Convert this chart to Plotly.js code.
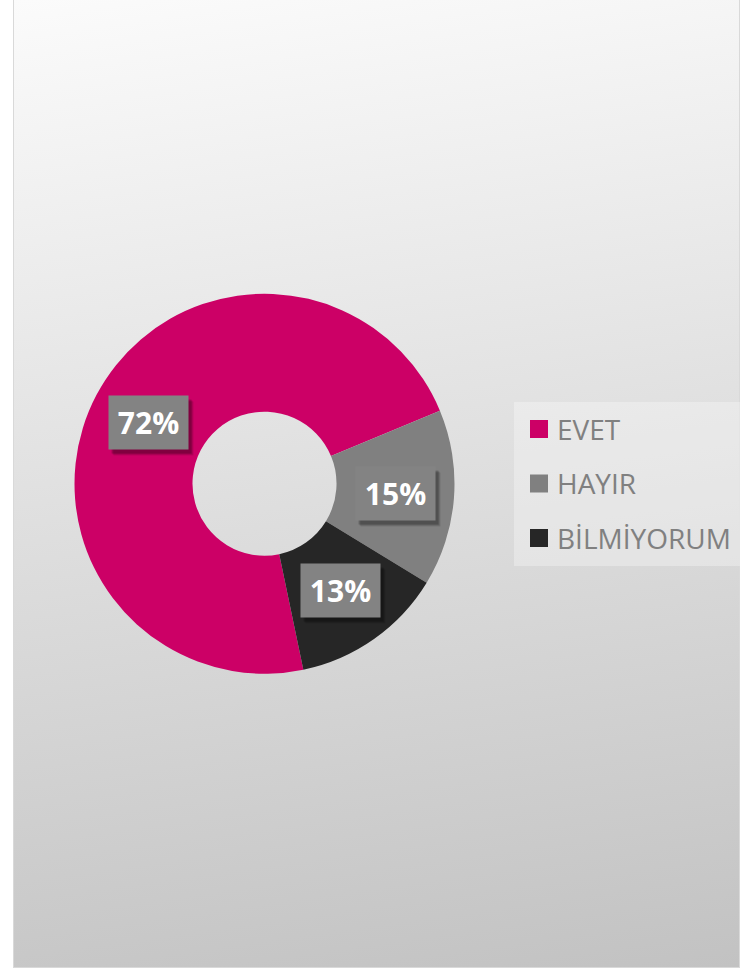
<!DOCTYPE html>
<html><head><meta charset="utf-8">
<script src="https://cdn.plot.ly/plotly-3.0.1.min.js"></script>
<style>
html,body{margin:0;padding:0;background:#fff;overflow:hidden;}
#frame{position:absolute;left:13px;top:-1px;width:725px;height:967px;border:1px solid #d9d9d9;background:linear-gradient(172deg,#fbfbfb 0%,#c2c2c2 100%);}
#chart{position:absolute;left:0;top:0;width:741px;height:970px;}
</style></head><body>
<div id="frame"></div><div id="chart"></div>
<script>
// Data
const labels = ['EVET', 'HAYIR', 'BİLMİYORUM'];
const values = [72, 15, 13];
const colors = ['#CC0066', '#808080', '#262626'];

// Layout constants
const W = 741, H = 970;
const CX = 264.5, CY = 483.7, R = 190;
const HOLE = 0.379;
const ROT = 168.2;

const total = values.reduce((a, b) => a + b, 0);
const annotations = [];
let cum = 0;
values.forEach((v, i) => {
  const mid = ROT + (cum + v / 2) / total * 360;
  cum += v;
  const a = mid * Math.PI / 180;
  const rr = R * (1 + HOLE) / 2;
  const px = CX + rr * Math.sin(a);
  const py = CY - rr * Math.cos(a);
  const xp = px / W, yp = 1 - py / H;
  const txt = Math.round(v / total * 100) + '%';
  [[5, -6, 0.10], [4, -5, 0.14], [3, -4, 0.18]].forEach(s => {
    annotations.push({
      xref: 'paper', yref: 'paper', x: xp, y: yp, xanchor: 'center', yanchor: 'middle',
      text: ' ', showarrow: false, width: 79, height: 53, borderpad: 0,
      bgcolor: 'rgba(0,0,0,' + s[2] + ')', xshift: s[0], yshift: s[1]
    });
  });
  annotations.push({
    xref: 'paper', yref: 'paper', x: xp, y: yp, xanchor: 'center', yanchor: 'middle',
    text: '<b>' + txt + '</b>', showarrow: false, width: 79, height: 53, borderpad: 0,
    bgcolor: '#838383', font: {family: 'Open Sans', size: 30, color: '#ffffff'}
  });
});

const data = [{
  type: 'pie',
  labels: labels,
  values: values,
  marker: {colors: colors, line: {width: 0}},
  hole: HOLE,
  sort: false,
  direction: 'clockwise',
  rotation: ROT,
  textinfo: 'none',
  hoverinfo: 'none',
  domain: {x: [(CX - R) / W, (CX + R) / W], y: [1 - (CY + R) / H, 1 - (CY - R) / H]}
}];

const layout = {
  width: W, height: H,
  margin: {l: 0, r: 0, t: 0, b: 0},
  paper_bgcolor: 'rgba(0,0,0,0)',
  plot_bgcolor: 'rgba(0,0,0,0)',
  showlegend: true,
  legend: {
    x: 514 / W, xanchor: 'left', y: 1 - 401.7 / H, yanchor: 'top',
    bgcolor: 'rgba(255,255,255,0.3)', borderwidth: 0,
    font: {family: 'Open Sans', size: 28, color: '#808080'}
  },
  annotations: annotations
};

const gd = document.getElementById('chart');
Plotly.newPlot(gd, data, layout, {staticPlot: true, displayModeBar: false}).then(() => {
  const leg = gd.querySelector('.legend');
  if (!leg) return;
  const sb = leg.querySelector('.scrollbox');
  if (sb) sb.removeAttribute('clip-path');
  const bg = leg.querySelector('rect.bg');
  if (bg) { bg.setAttribute('width', 227); bg.setAttribute('height', 164); }
  leg.querySelectorAll('.traces').forEach((t, i) => {
    t.setAttribute('transform', 'translate(3,' + (27.3 + i * 54.5) + ')');
    t.querySelectorAll('.legendpoints path').forEach(p => p.setAttribute('transform', 'translate(22,0) scale(1.5)'));
  });
});
</script>
</body></html>
